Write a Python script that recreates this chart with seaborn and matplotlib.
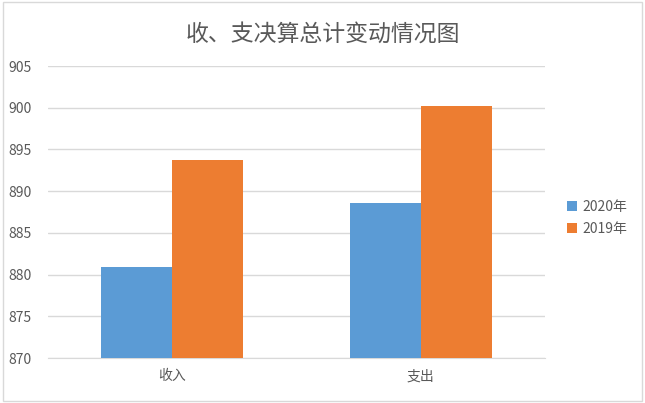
import pandas as pd
import matplotlib.pyplot as plt
import seaborn as sns
from matplotlib.patches import Rectangle

# 数据
categories = ['收入', '支出']
years = ['2020年', '2019年']
values_2020 = [880.9, 888.6]
values_2019 = [893.7, 900.2]
yticks = [870, 875, 880, 885, 890, 895, 900, 905]

df = pd.DataFrame({
    '类别': categories * 2,
    '年份': [years[0]] * 2 + [years[1]] * 2,
    '金额': values_2020 + values_2019,
})

sns.set_style('white')
plt.rcParams['font.family'] = ['Noto Sans CJK SC', 'DejaVu Sans']

fig = plt.figure(figsize=(6.45, 4.03), dpi=100)
ax = fig.add_axes([48 / 645, 1 - 358 / 403, 497 / 645, 292 / 403])

sns.barplot(data=df, x='类别', y='金额', hue='年份', hue_order=years,
            palette=['#5B9BD5', '#ED7D31'], width=0.57, gap=0,
            saturation=1, linewidth=0, ax=ax, zorder=3)

ax.set_ylim(870, 905)
ax.set_xlim(-0.5, 1.5)
ax.set_yticks(yticks)
ax.grid(axis='y', color='#D9D9D9', linewidth=1, zorder=0)
for s in ['top', 'left', 'right']:
    ax.spines[s].set_visible(False)
ax.spines['bottom'].set_color('#D9D9D9')
ax.tick_params(axis='both', length=0, labelsize=10, colors='#595959', pad=12)
ax.tick_params(axis='x', pad=8)
ax.set_xlabel('')
ax.set_ylabel('')

fig.suptitle('收、支决算总计变动情况图', y=0.945, fontsize=16.5, color='#595959')

ax.legend(loc='center left', bbox_to_anchor=(1.02, 0.48), frameon=False,
          fontsize=10, labelcolor='#595959', handlelength=0.7, handleheight=0.7,
          handletextpad=0.4, labelspacing=0.6)

# 外框
fig.patches.append(Rectangle((0.004, 0.004), 0.992, 0.992, transform=fig.transFigure,
                             fill=False, edgecolor='#D9D9D9', linewidth=1))

fig.savefig('out.png', dpi=100)
